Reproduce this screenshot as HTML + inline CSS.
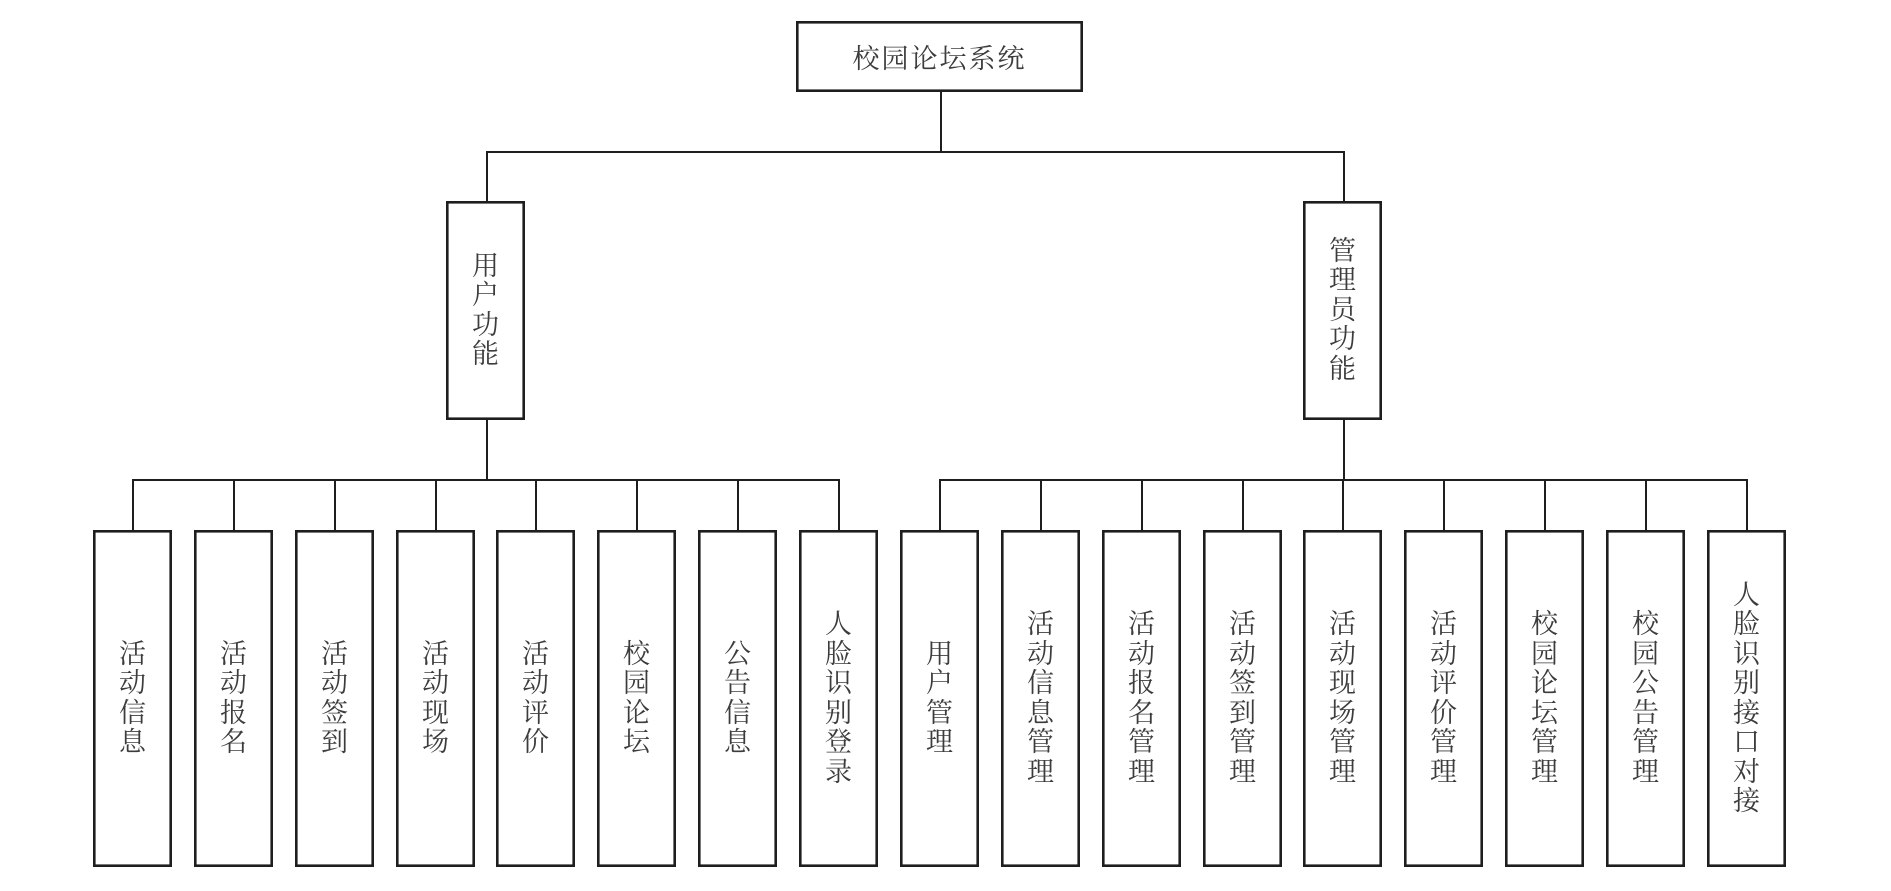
<!DOCTYPE html>
<html>
<head>
<meta charset="utf-8">
<style>
  html, body { margin:0; padding:0; background:#fff; }
  body { width:1891px; height:891px; position:relative; overflow:hidden; }
  svg { position:absolute; left:0; top:0; }
  .lbl {
    position:absolute; display:flex; align-items:center; justify-content:center;
    font-family: "Liberation Serif", "Noto Serif CJK SC", "Noto Sans CJK SC", serif;
    color:#3c3c3c; font-size:27px;
  }
  .v { width:30px; line-height:29.5px; text-align:center; word-break:break-all; }
  .h { white-space:nowrap; letter-spacing:2px; }
</style>
</head>
<body>
<svg width="1891" height="891" viewBox="0 0 1891 891" xmlns="http://www.w3.org/2000/svg">
  <g fill="#fff" stroke="#1e1e1e" stroke-width="2.6">
    <rect x="797.3" y="22.3" width="284.4" height="68.4"/>
    <rect x="447.3" y="202.3" width="76.4" height="216.4"/>
    <rect x="1304.3" y="202.3" width="76.4" height="216.4"/>
  </g>
  <g stroke="#1e1e1e" stroke-width="2" fill="none">
    <line x1="941" y1="92" x2="941" y2="152"/>
    <line x1="486" y1="152" x2="1345" y2="152"/>
    <line x1="487" y1="151" x2="487" y2="201"/>
    <line x1="1344" y1="151" x2="1344" y2="201"/>
    <line x1="487" y1="420" x2="487" y2="480"/>
    <line x1="1344" y1="420" x2="1344" y2="480"/>
    <line x1="133" y1="480" x2="840" y2="480"/>
    <line x1="940" y1="480" x2="1748" y2="480"/>
  </g>
  <g id="leaves" fill="#fff" stroke="#1e1e1e" stroke-width="2.6"></g>
  <g id="conns" stroke="#1e1e1e" stroke-width="2" fill="none"></g>
</svg>

<div class="lbl h" style="left:796px;top:21px;width:287px;height:71px;">校园论坛系统</div>
<div class="lbl" style="left:446px;top:201px;width:79px;height:219px;"><div class="v">用户功能</div></div>
<div class="lbl" style="left:1303px;top:201px;width:79px;height:219px;"><div class="v">管理员功能</div></div>

<div id="labels"></div>

<script>
(function(){
  var user = ["活动信息","活动报名","活动签到","活动现场","活动评价","校园论坛","公告信息","人脸识别登录"];
  var admin = ["用户管理","活动信息管理","活动报名管理","活动签到管理","活动现场管理","活动评价管理","校园论坛管理","校园公告管理","人脸识别接口对接"];
  var pitch = 100.87, w = 79, top = 530, bot = 867;
  var leaves = document.getElementById('leaves');
  var conns = document.getElementById('conns');
  var labels = document.getElementById('labels');
  var ns = "http://www.w3.org/2000/svg";
  function add(left, text){
    var r = document.createElementNS(ns,'rect');
    r.setAttribute('x', left+1.3); r.setAttribute('y', top+1.3);
    r.setAttribute('width', w-2.6); r.setAttribute('height', bot-top-2.6);
    leaves.appendChild(r);
    var cx = Math.round(left + 40);
    var l = document.createElementNS(ns,'line');
    l.setAttribute('x1', cx); l.setAttribute('x2', cx);
    l.setAttribute('y1', 479); l.setAttribute('y2', top);
    conns.appendChild(l);
    var d = document.createElement('div');
    d.className = 'lbl';
    d.style.left = left+'px'; d.style.top = top+'px';
    d.style.width = w+'px'; d.style.height = (bot-top)+'px';
    d.innerHTML = '<div class="v">'+text+'</div>';
    labels.appendChild(d);
  }
  for (var i=0;i<user.length;i++) add(Math.round(93 + pitch*i), user[i]);
  for (var j=0;j<admin.length;j++) add(Math.round(900 + pitch*j), admin[j]);
})();
</script>
</body>
</html>
